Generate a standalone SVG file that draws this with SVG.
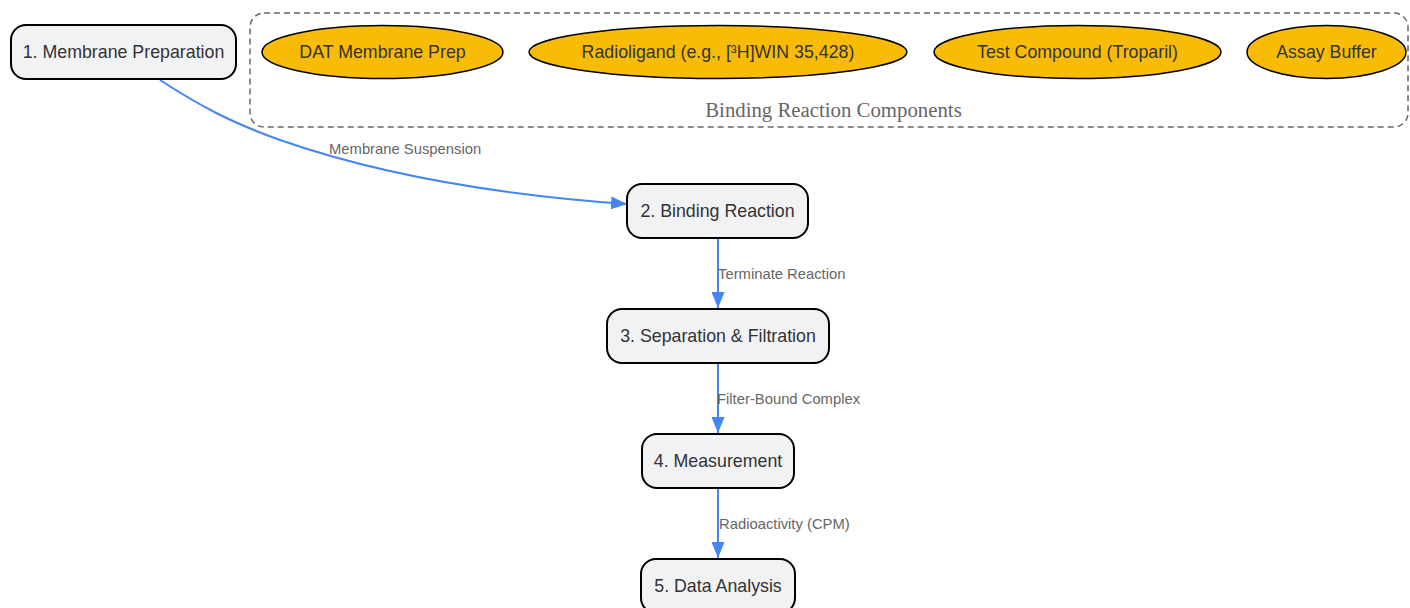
<svg xmlns="http://www.w3.org/2000/svg" width="1410" height="608" viewBox="0 0 1410 608">
<style>
.bg{fill:#ffffff}
.step rect{fill:#f1f2f4;stroke:#000;stroke-width:2}
.comp ellipse{fill:#f9bc06;stroke:#000;stroke-width:1.5}
.nt{font-family:"Liberation Sans",Arial,sans-serif;font-size:17.8px;fill:#333;text-anchor:middle}
.el{font-family:"Liberation Sans",Arial,sans-serif;font-size:14.8px;fill:#666}
.cl{fill:none;stroke:#666;stroke-width:1.5;stroke-dasharray:6,4}
.ct{font-family:"Liberation Serif","Times New Roman",serif;font-size:20.8px;fill:#666;text-anchor:middle}
.edge{fill:none;stroke:#4285f4;stroke-width:2;marker-end:url(#arr)}
</style>
<defs>
<marker id="arr" viewBox="0 0 16 13" refX="16" refY="6.5" markerWidth="16" markerHeight="13" markerUnits="userSpaceOnUse" orient="auto">
<path d="M0,0 L16,6.5 L0,13 z" fill="#4285f4"/>
</marker>
</defs>
<rect class="bg" x="0" y="0" width="1410" height="608"/>
<g id="cluster">
<rect class="cl" x="250" y="13" width="1158" height="114" rx="14"/>
<text class="ct" x="833.5" y="117">Binding Reaction Components</text>
</g>
<g id="connectors">
<path class="edge" d="M160,80 C200,106 230,122 280,140 C380,175 500,195 627,204"/>
<path class="edge" d="M718,238 L718,308"/>
<path class="edge" d="M718,363 L718,433"/>
<path class="edge" d="M718,488 L718,558"/>
<text class="el" x="329" y="154">Membrane Suspension</text>
<text class="el" x="718" y="279">Terminate Reaction</text>
<text class="el" x="717" y="404">Filter-Bound Complex</text>
<text class="el" x="719" y="529">Radioactivity (CPM)</text>
</g>
<g id="n1" class="step">
<rect x="11" y="25" width="225" height="54" rx="15"/>
<text class="nt" x="123.5" y="58">1. Membrane Preparation</text>
</g>
<g id="n2" class="step">
<rect x="627" y="184" width="181" height="54" rx="15"/>
<text class="nt" x="717.5" y="217">2. Binding Reaction</text>
</g>
<g id="n3" class="step">
<rect x="607" y="309" width="222" height="54" rx="15"/>
<text class="nt" x="718" y="342">3. Separation &amp; Filtration</text>
</g>
<g id="n4" class="step">
<rect x="642" y="434" width="152" height="54" rx="15"/>
<text class="nt" x="718" y="467">4. Measurement</text>
</g>
<g id="n5" class="step">
<rect x="641" y="559" width="154" height="54" rx="15"/>
<text class="nt" x="718" y="592">5. Data Analysis</text>
</g>
<g id="c1" class="comp">
<ellipse cx="382.5" cy="52" rx="120.5" ry="26.5"/>
<text class="nt" x="382.5" y="58">DAT Membrane Prep</text>
</g>
<g id="c2" class="comp">
<ellipse cx="718" cy="52" rx="189" ry="26.5"/>
<text class="nt" x="718" y="58">Radioligand (e.g., [³H]WIN 35,428)</text>
</g>
<g id="c3" class="comp">
<ellipse cx="1077.5" cy="52" rx="143.5" ry="26.5"/>
<text class="nt" x="1077.5" y="58">Test Compound (Troparil)</text>
</g>
<g id="c4" class="comp">
<ellipse cx="1326.5" cy="52" rx="79.5" ry="26.5"/>
<text class="nt" x="1326.5" y="58">Assay Buffer</text>
</g>
</svg>
